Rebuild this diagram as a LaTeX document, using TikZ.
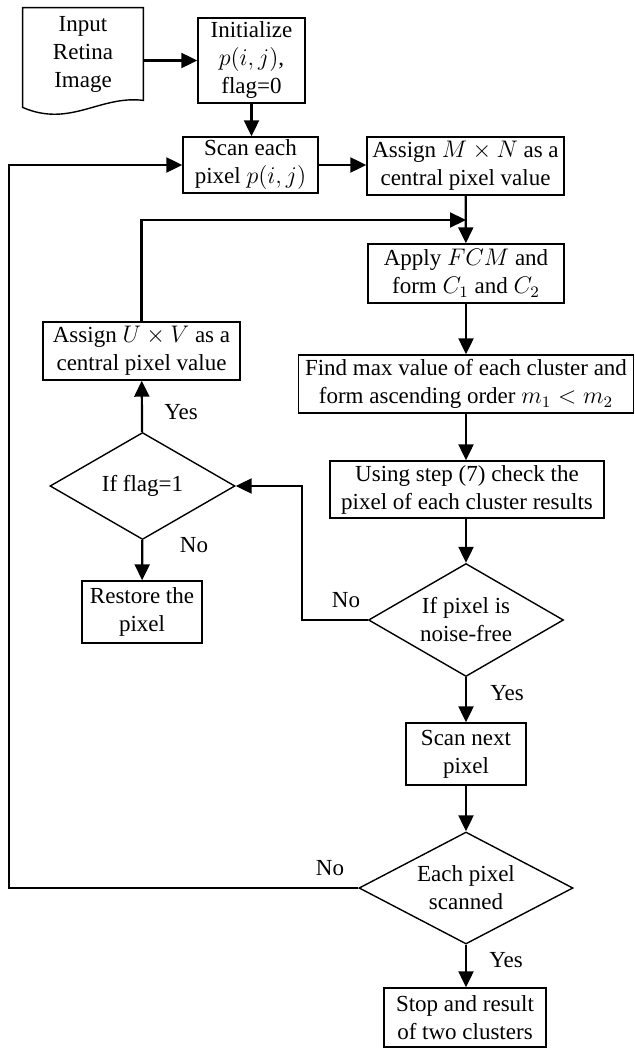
\documentclass[tikz,border=0pt]{standalone}
\usepackage{fontspec}
\setmainfont{Liberation Serif}
\usetikzlibrary{shapes.geometric,arrows.meta}
\tikzset{
  box/.style={draw,line width=0.7pt,align=center,inner sep=0pt},
  decision/.style={diamond,draw,line width=0.7pt,align=center,inner sep=0pt,aspect=2},
  arr/.style={-{Triangle[length=8pt,width=7.5pt]},line width=1.1pt},
  lbl/.style={inner sep=0pt}
}

\begin{document}
\begin{tikzpicture}[x=0.5pt,y=-0.5pt,font=\fontsize{11.5}{14}\selectfont]
  \useasboundingbox (0,0) rectangle (635,1048);

  \node[inner sep=0pt,align=center,minimum width=60pt,minimum height=46pt]
    (input) at (83,54) {Input\\Retina\\Image};
  \draw[line width=0.7pt]
    (input.north west) -- (input.north east) -- (input.south east)
    .. controls (100,95) and (70,128) .. ([yshift=-3.5pt]input.south west) -- cycle;

  \node[box,minimum width=53.5pt,minimum height=42.5pt]
    (init) at (251.5,60.5) {Initialize\\$p(i,j)$,\\flag=0};
  \node[box,minimum width=67.5pt,minimum height=28pt]
    (scan) at (250.5,165) {Scan each\\pixel $p(i,j)$};
  \node[box,minimum width=98.5pt,minimum height=29pt]
    (assignMN) at (465.5,166) {Assign $M\times N$ as a\\central pixel value};
  \node[box,minimum width=98pt,minimum height=29.5pt]
    (apply) at (466,273.5) {Apply $FCM$ and\\form $C_1$ and $C_2$};
  \node[box,minimum width=167.5pt,minimum height=29pt]
    (findmax) at (466,384) {Find max value of each cluster and\\form ascending order $m_1<m_2$};
  \node[box,minimum width=137pt,minimum height=28.5pt]
    (usestep) at (467,489.5) {Using step (7) check the\\pixel of each cluster results};
  \node[decision,minimum width=97.5pt,minimum height=56.5pt]
    (noisefree) at (466,620) {If pixel is\\noise-free};
  \node[box,minimum width=60pt,minimum height=31pt]
    (scannext) at (466,754) {Scan next\\pixel};
  \node[decision,minimum width=107pt,minimum height=56pt]
    (allscanned) at (466,888) {Each pixel\\scanned};
  \node[box,minimum width=81pt,minimum height=29.5pt]
    (stop) at (465,1017.5) {Stop and result\\of two clusters};

  \node[box,minimum width=98.5pt,minimum height=29pt]
    (assignUV) at (141.5,351) {Assign $U\times V$ as a\\central pixel value};
  \node[decision,minimum width=92.5pt,minimum height=53.5pt]
    (flag) at (142.5,486) {If flag=1};
  \node[box,minimum width=60pt,minimum height=31pt]
    (restore) at (142,612) {Restore the\\pixel};

  \coordinate (merge) at (466,220);
  \coordinate (noturn) at (302,620);
  \coordinate (backturn) at (9,888);

  \draw[arr] (input.east |- init.west) -- (init.west);
  \draw[arr] (init.south) -- (init.south |- scan.north);
  \draw[arr] (scan.east) -- (scan.east -| assignMN.west);
  \draw[arr] (assignMN) -- (apply);
  \draw[arr] (assignUV.north) |- (merge);
  \draw[arr] (apply) -- (findmax);
  \draw[arr] (findmax.south) -- (findmax.south |- usestep.north);
  \draw[arr] (usestep.south -| noisefree.north) -- (noisefree.north);
  \draw[arr] (noisefree.west) -- (noturn) |- (flag.east);
  \draw[arr] (flag) -- (assignUV);
  \draw[arr] (flag) -- (restore);
  \draw[arr] (noisefree) -- (scannext);
  \draw[arr] (scannext) -- (allscanned);
  \draw[arr] (allscanned.west) -- (backturn) |- (scan.west);
  \draw[arr] (allscanned.south) -- (allscanned.south |- stop.north);

  \node[lbl] (no1) at (346,600) {No};
  \node[lbl] (yes1) at (181,412) {Yes};
  \node[lbl] (no2) at (194,545) {No};
  \node[lbl] (yes2) at (507,693) {Yes};
  \node[lbl] (no3) at (330,868) {No};
  \node[lbl] (yes3) at (506,960) {Yes};
\end{tikzpicture}
\end{document}
